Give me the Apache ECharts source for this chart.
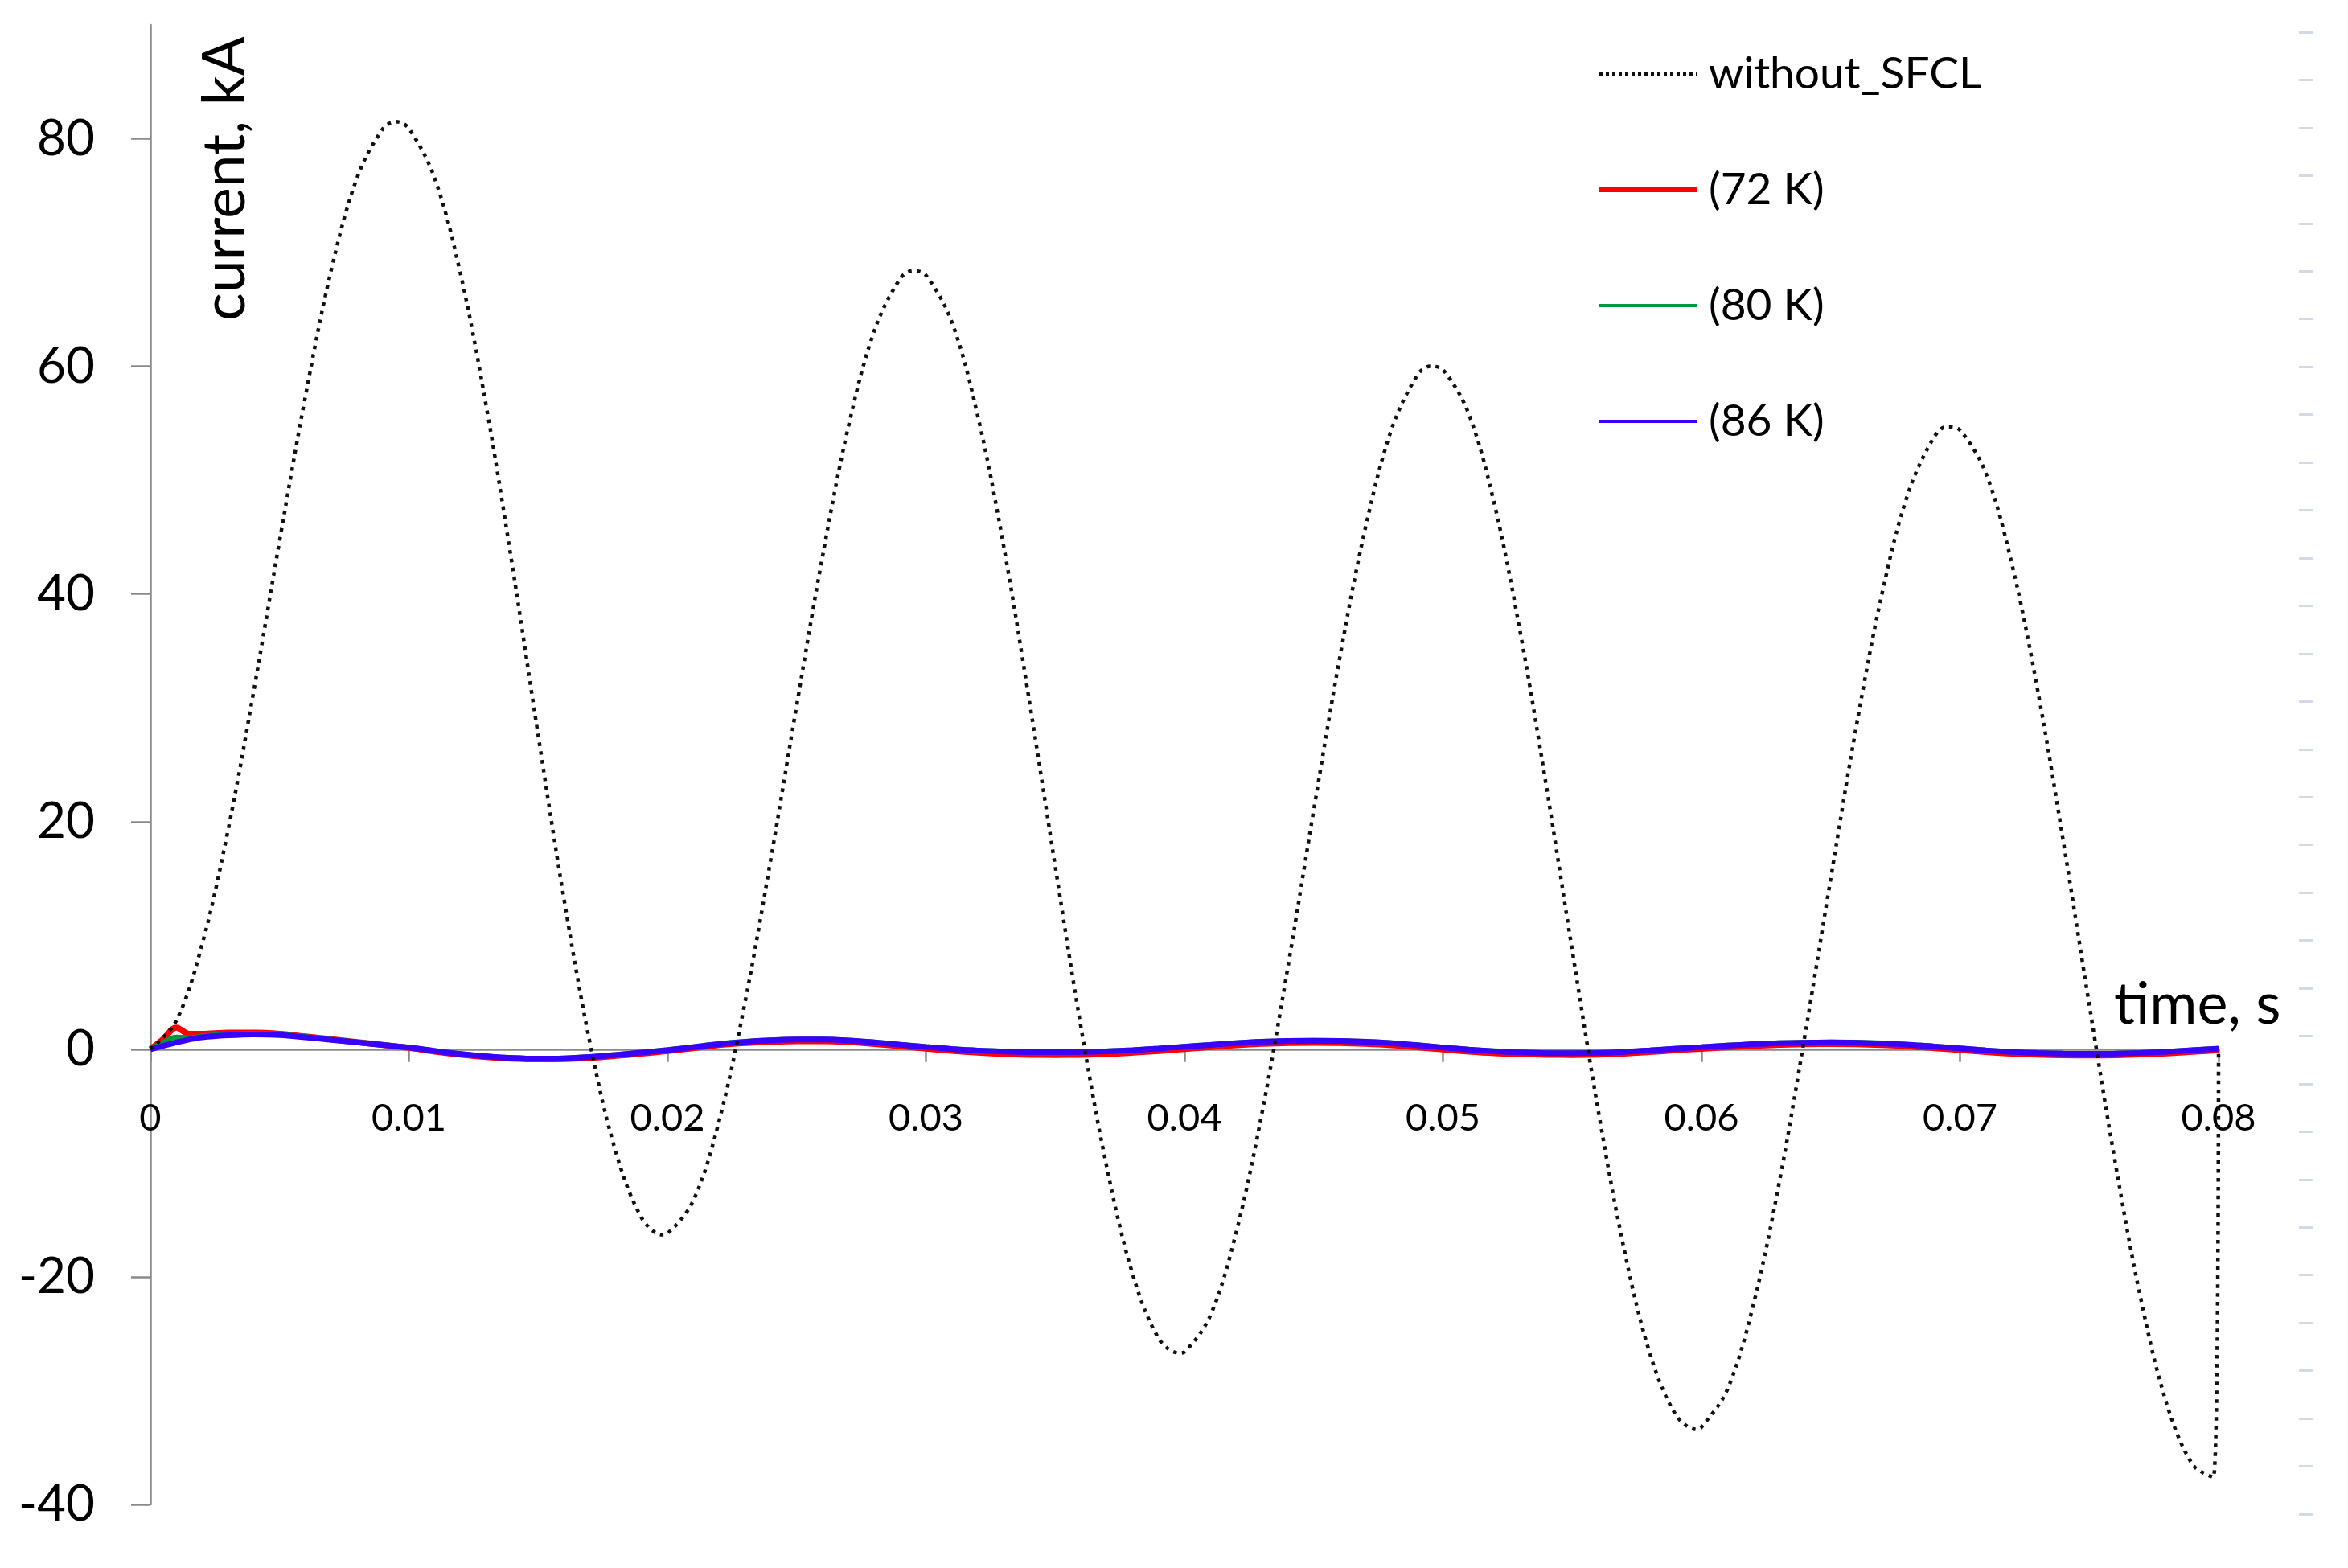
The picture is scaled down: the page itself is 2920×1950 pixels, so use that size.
<!DOCTYPE html>
<html>
<head>
<meta charset="utf-8">
<script src="https://cdn.jsdelivr.net/npm/echarts@6.0.0/dist/echarts.min.js"></script>
<style>
  html, body { margin: 0; padding: 0; background: #ffffff; }
  #chart { width: 2920px; height: 1950px; }
</style>
</head>
<body>
<div id="chart"></div>
<script>
// ---- data ----
const xTickLabels = ['0', '0.01', '0.02', '0.03', '0.04', '0.05', '0.06', '0.07', '0.08'];
const yTickValues = [-40, -20, 0, 20, 40, 60, 80];
const seriesNames = ['without_SFCL', '(72 K)', '(80 K)', '(86 K)'];

// current without SFCL (kA) vs time (s)
const tNoSFCL = [0, 0.001, 0.002, 0.003, 0.004, 0.005, 0.006, 0.007, 0.008, 0.009, 0.0095,
  0.010, 0.011, 0.012, 0.013, 0.014, 0.015, 0.016, 0.017, 0.018, 0.019, 0.0198,
  0.020, 0.021, 0.022, 0.023, 0.024, 0.025, 0.026, 0.027, 0.028, 0.029, 0.0295,
  0.030, 0.031, 0.032, 0.033, 0.034, 0.035, 0.036, 0.037, 0.038, 0.039, 0.0398,
  0.040, 0.041, 0.042, 0.043, 0.044, 0.045, 0.046, 0.047, 0.048, 0.049, 0.0495,
  0.050, 0.051, 0.052, 0.053, 0.054, 0.055, 0.056, 0.057, 0.058, 0.059, 0.0598,
  0.060, 0.061, 0.062, 0.063, 0.064, 0.065, 0.066, 0.067, 0.068, 0.069, 0.0695,
  0.070, 0.071, 0.072, 0.073, 0.074, 0.075, 0.076, 0.077, 0.078, 0.079, 0.0798, 0.080];
const iNoSFCL = [0, 2.5, 9.2, 19.2, 31.5, 44.7, 57.4, 68.5, 76.6, 80.9, 81.5,
  80.9, 76.5, 68.1, 56.4, 42.5, 27.6, 13.2, 0.6, -9.0, -14.8, -16.3,
  -16.2, -13.3, -6.3, 4.1, 16.7, 30.2, 43.3, 54.7, 63.1, 67.7, 68.4,
  68.0, 63.9, 55.7, 44.3, 30.6, 16.1, 1.9, -10.4, -19.8, -25.4, -26.7,
  -26.6, -23.4, -16.1, -5.6, 7.2, 21.0, 34.3, 45.8, 54.4, 59.2, 60.0,
  59.7, 55.8, 47.8, 36.5, 23.1, 8.7, -5.3, -17.5, -26.7, -32.1, -33.4,
  -33.2, -29.9, -22.5, -11.8, 1.2, 15.0, 28.5, 40.2, 48.9, 53.8, 54.7,
  54.4, 50.6, 42.7, 31.6, 18.2, 3.9, -9.9, -22.0, -31.2, -36.5, -37.6, 0];

// currents with SFCL (kA)
const tSFCL = [0, 0.0005, 0.001, 0.0015, 0.002, 0.003, 0.004, 0.005, 0.006, 0.007, 0.008, 0.009, 0.010,
  0.011, 0.012, 0.013, 0.014, 0.015, 0.016, 0.017, 0.018, 0.019, 0.020,
  0.021, 0.022, 0.023, 0.024, 0.025, 0.026, 0.027, 0.028, 0.029, 0.030,
  0.031, 0.032, 0.033, 0.034, 0.035, 0.036, 0.037, 0.038, 0.039, 0.040,
  0.041, 0.042, 0.043, 0.044, 0.045, 0.046, 0.047, 0.048, 0.049, 0.050,
  0.051, 0.052, 0.053, 0.054, 0.055, 0.056, 0.057, 0.058, 0.059, 0.060,
  0.061, 0.062, 0.063, 0.064, 0.065, 0.066, 0.067, 0.068, 0.069, 0.070,
  0.071, 0.072, 0.073, 0.074, 0.075, 0.076, 0.077, 0.078, 0.079, 0.080];
const i72K = [0, 0.9, 1.9, 1.35, 1.35, 1.45, 1.45, 1.35, 1.12, 0.88, 0.62, 0.38, 0.12,
  -0.2, -0.47, -0.68, -0.82, -0.88, -0.86, -0.75, -0.58, -0.38, -0.15,
  0.1, 0.37, 0.55, 0.66, 0.72, 0.72, 0.64, 0.47, 0.27, 0.06,
  -0.14, -0.3, -0.42, -0.48, -0.5, -0.48, -0.42, -0.3, -0.15, 0.02,
  0.2, 0.36, 0.48, 0.56, 0.58, 0.56, 0.48, 0.36, 0.18, -0.02,
  -0.2, -0.34, -0.43, -0.48, -0.5, -0.47, -0.38, -0.24, -0.09, 0.05,
  0.18, 0.3, 0.39, 0.45, 0.46, 0.44, 0.37, 0.26, 0.1, -0.07,
  -0.24, -0.38, -0.47, -0.52, -0.54, -0.52, -0.46, -0.36, -0.22, -0.08];
const i80K = [0, 0.6, 1.05, 1.0, 1.15, 1.32, 1.36, 1.3, 1.1, 0.86, 0.63, 0.4, 0.16,
  -0.13, -0.4, -0.61, -0.75, -0.81, -0.78, -0.66, -0.48, -0.27, -0.05,
  0.21, 0.48, 0.68, 0.81, 0.87, 0.87, 0.79, 0.62, 0.42, 0.22,
  0.04, -0.1, -0.18, -0.23, -0.24, -0.22, -0.16, -0.06, 0.08, 0.24,
  0.4, 0.56, 0.68, 0.75, 0.77, 0.75, 0.68, 0.56, 0.38, 0.17,
  -0.01, -0.16, -0.26, -0.32, -0.33, -0.3, -0.22, -0.08, 0.07, 0.2,
  0.34, 0.46, 0.55, 0.6, 0.62, 0.6, 0.53, 0.42, 0.26, 0.09,
  -0.08, -0.22, -0.31, -0.36, -0.38, -0.36, -0.3, -0.2, -0.06, 0.07];
const i86K = [0, 0.3, 0.6, 0.85, 1.05, 1.22, 1.3, 1.25, 1.05, 0.82, 0.6, 0.38, 0.15,
  -0.15, -0.42, -0.63, -0.77, -0.83, -0.8, -0.68, -0.5, -0.3, -0.08,
  0.18, 0.45, 0.65, 0.78, 0.85, 0.85, 0.77, 0.6, 0.4, 0.2,
  0.02, -0.12, -0.2, -0.25, -0.26, -0.24, -0.18, -0.08, 0.06, 0.22,
  0.38, 0.54, 0.66, 0.73, 0.75, 0.73, 0.66, 0.54, 0.36, 0.15,
  -0.03, -0.18, -0.28, -0.34, -0.35, -0.32, -0.24, -0.1, 0.05, 0.18,
  0.32, 0.44, 0.53, 0.58, 0.6, 0.58, 0.51, 0.4, 0.24, 0.07,
  -0.1, -0.24, -0.33, -0.38, -0.4, -0.38, -0.32, -0.22, -0.08, 0.05];

// ---- chart ----
const FONT = 'Lato';
const pairs = (ts, vs) => ts.map((t, i) => [t, vs[i]]);
const axisGrey = '#8a8a8a';
const GRID_TOP = 31, GRID_H = 1840, Y_MIN = -40, Y_MAX = 90;
// move the x axis up from the grid bottom to the value 0
const xAxisOffset = -(GRID_H * (0 - Y_MIN) / (Y_MAX - Y_MIN));

const chart = echarts.init(document.getElementById('chart'), null, { renderer: 'canvas' });
chart.setOption({
  animation: false,
  backgroundColor: '#ffffff',
  textStyle: { fontFamily: FONT },
  grid: [
    { left: 187, top: GRID_TOP, width: 2572, height: GRID_H, containLabel: false, outerBoundsMode: 'none' },
    { left: 2876, top: 40, width: 1, height: 1843, containLabel: false, outerBoundsMode: 'none' }
  ],
  legend: {
    orient: 'vertical',
    left: 1981,
    top: 54,
    itemWidth: 121,
    itemHeight: 14,
    itemGap: 78,
    itemStyle: { opacity: 0 },
    data: [
      { name: seriesNames[0], lineStyle: { width: 4, type: [4, 4], color: '#111' }, itemStyle: { opacity: 0 } },
      { name: seriesNames[1], lineStyle: { width: 6, color: '#ff0000' }, itemStyle: { opacity: 0 } },
      { name: seriesNames[2], lineStyle: { width: 4, color: '#00963c' }, itemStyle: { opacity: 0 } },
      { name: seriesNames[3], lineStyle: { width: 4, color: '#3a00ff' }, itemStyle: { opacity: 0 } }
    ],
    textStyle: { fontFamily: FONT, fontSize: 55, color: '#000', lineHeight: 66, padding: [0, 0, 0, 10] }
  },
  xAxis: [{
    type: 'value',
    gridIndex: 0,
    position: 'bottom',
    offset: xAxisOffset,
    min: 0,
    max: 0.08,
    interval: 0.01,
    axisLine: { onZero: false, lineStyle: { color: axisGrey, width: 2.5 } },
    axisTick: { show: true, length: 16, lineStyle: { color: axisGrey, width: 2.5 } },
    splitLine: { show: false },
    axisLabel: {
      fontFamily: FONT, fontSize: 47, color: '#000', margin: 62,
      formatter: (v) => xTickLabels[Math.round(v / 0.01)] ?? ''
    }
  }, {
    type: 'value', gridIndex: 1, show: false, min: 0, max: 1
  }],
  yAxis: [{
    type: 'value',
    gridIndex: 0,
    min: Y_MIN,
    max: Y_MAX,
    interval: 20,
    axisLine: { show: true, onZero: false, lineStyle: { color: axisGrey, width: 2.5 } },
    axisTick: { show: true, length: 24, customValues: yTickValues, lineStyle: { color: axisGrey, width: 2.5 } },
    splitLine: { show: false },
    axisLabel: { fontFamily: FONT, fontSize: 62, color: '#000', margin: 69, customValues: yTickValues }
  }, {
    type: 'value',
    gridIndex: 1,
    position: 'left',
    min: 0,
    max: 31,
    interval: 1,
    axisLine: { show: false },
    axisTick: { show: true, length: 17, lineStyle: { color: '#d3d9e6', width: 3 } },
    axisLabel: { show: false },
    splitLine: { show: false }
  }],
  graphic: [
    {
      type: 'text',
      x: 280, y: 222,
      rotation: Math.PI / 2,
      style: {
        text: 'current, kA',
        fontFamily: FONT, fontSize: 73, fill: '#000',
        textAlign: 'center', textVerticalAlign: 'middle'
      }
    },
    {
      type: 'text',
      x: 2629, y: 1250,
      style: {
        text: 'time, s',
        fontFamily: FONT, fontSize: 72, fill: '#000',
        textAlign: 'left', textVerticalAlign: 'middle'
      }
    }
  ],
  series: [
    {
      name: seriesNames[0],
      type: 'line',
      xAxisIndex: 0, yAxisIndex: 0,
      data: pairs(tNoSFCL, iNoSFCL),
      showSymbol: false, symbol: 'none',
      smooth: 0.35,
      z: 5,
      color: '#111111',
      lineStyle: { color: '#111111', width: 4.5, type: [4.5, 6.5], cap: 'butt' }
    },
    {
      name: seriesNames[1],
      type: 'line',
      data: pairs(tSFCL, i72K),
      showSymbol: false, symbol: 'none',
      smooth: 0.35,
      z: 2,
      color: '#ff0000',
      lineStyle: { color: '#ff0000', width: 7.5 }
    },
    {
      name: seriesNames[2],
      type: 'line',
      data: pairs(tSFCL, i80K),
      showSymbol: false, symbol: 'none',
      smooth: 0.35,
      z: 3,
      color: '#00963c',
      lineStyle: { color: '#00963c', width: 6.5 }
    },
    {
      name: seriesNames[3],
      type: 'line',
      data: pairs(tSFCL, i86K),
      showSymbol: false, symbol: 'none',
      smooth: 0.35,
      z: 4,
      color: '#3a00ff',
      lineStyle: { color: '#3a00ff', width: 7 }
    }
  ]
});
</script>
</body>
</html>
